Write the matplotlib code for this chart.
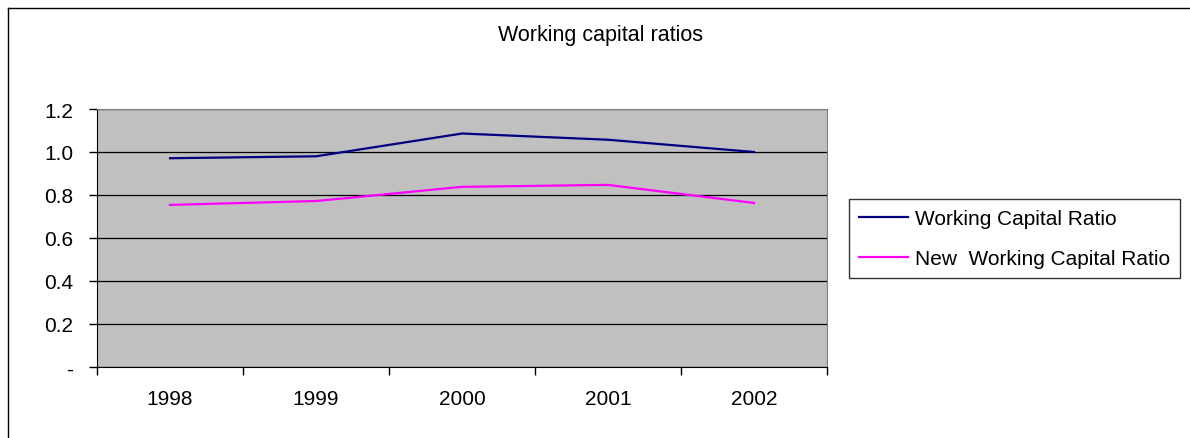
import matplotlib.pyplot as plt
from matplotlib.lines import Line2D

plt.rcParams['font.family'] = ['Liberation Sans', 'DejaVu Sans']

years = ['1998', '1999', '2000', '2001', '2002']
wc_ratio = [0.971, 0.980, 1.086, 1.057, 1.000]
new_wc_ratio = [0.754, 0.772, 0.838, 0.847, 0.763]
y_ticks = [0, 0.2, 0.4, 0.6, 0.8, 1.0, 1.2]
y_labels = ['-', '0.2', '0.4', '0.6', '0.8', '1.0', '1.2']

W, H = 1190, 439
fig = plt.figure(figsize=(W / 100, H / 100), dpi=100)

# chart frame, only left and top edges sit inside the image
fig.add_artist(Line2D([8 / W, 8 / W], [0, (H - 9) / H], color='black', lw=1.0))
fig.add_artist(Line2D([8 / W, 1], [(H - 9) / H, (H - 9) / H], color='black', lw=1.0))

ax = fig.add_axes([97 / W, (H - 368) / H, 730 / W, 258 / H])
ax.set_facecolor('#C0C0C0')

x = list(range(len(years)))
ax.plot(x, wc_ratio, color='#000080', lw=1.6, label='Working Capital Ratio')
ax.plot(x, new_wc_ratio, color='#FF00FF', lw=1.6, label='New  Working Capital Ratio')

ax.set_xlim(-0.5, len(years) - 0.5)
ax.set_ylim(0, 1.2)
ax.set_yticks(y_ticks)
ax.set_yticklabels(y_labels, fontsize=15)
ax.yaxis.grid(True, color='black', lw=0.9)
ax.set_axisbelow(True)

# category boundaries get the tick marks, labels sit in the middle
ax.set_xticks([i - 0.5 for i in range(len(years) + 1)])
ax.set_xticklabels([])
ax.set_xticks(x, minor=True)
ax.set_xticklabels(years, minor=True, fontsize=15)
ax.tick_params(axis='x', which='major', length=6, width=1, direction='out')
ax.tick_params(axis='x', which='minor', length=0, pad=16)
ax.tick_params(axis='y', length=6, width=1, direction='out', pad=11)

for side in ['top', 'right']:
    ax.spines[side].set_color('#808080')
for side in ['left', 'bottom']:
    ax.spines[side].set_color('black')

fig.text(601 / W, (H - 36) / H, 'Working capital ratios', ha='center', va='center', fontsize=15.5)

leg = fig.legend(loc='upper left', bbox_to_anchor=(849 / W, (H - 200) / H),
                 fontsize=15, frameon=True, fancybox=False, edgecolor='black',
                 handlelength=2.35, handletextpad=0.3, borderpad=0.5,
                 labelspacing=0.98, borderaxespad=0)
leg.get_frame().set_linewidth(1.0)

fig.savefig('out.png', dpi=100, facecolor='white')
